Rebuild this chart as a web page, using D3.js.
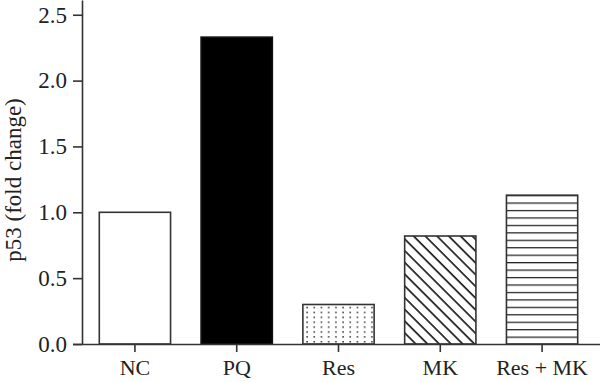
<!DOCTYPE html>
<html>
<head>
<meta charset="utf-8">
<script src="https://cdn.jsdelivr.net/npm/d3@7"></script>
<style>
  body { margin: 0; background: #fff; }
  svg { display: block; }
  text { font-family: "Liberation Serif", "Times New Roman", serif; }
</style>
</head>
<body>
<svg id="chart"></svg>
<script>
const groups = ["NC", "PQ", "Res", "MK", "Res + MK"];
const foldChange = [1.0, 2.33, 0.30, 0.82, 1.13];
const fills = ["white", "black", "url(#dots)", "url(#diag)", "url(#horiz)"];
const yTicks = [0, 0.5, 1.0, 1.5, 2.0, 2.5];

const w = 600;
const h = 382;
const axisColor = "#333";
const serif = '"Liberation Serif", "Times New Roman", serif';

const svg = d3.select("#chart").attr("width", w).attr("height", h);

const x = d3.scaleBand()
  .domain(groups)
  .range([82, 595])
  .paddingInner(0.3)
  .paddingOuter(0.17);

const y = d3.scaleLinear().domain([0, 2.612]).range([344, 0]);

// patterns
const defs = svg.append("defs");

const dots = defs.append("pattern")
  .attr("id", "dots")
  .attr("patternUnits", "userSpaceOnUse")
  .attr("width", 7.2)
  .attr("height", 4.9)
  .attr("x", 1)
  .attr("y", 344);
dots.append("rect").attr("width", 7.2).attr("height", 4.9).attr("fill", "white");
dots.append("rect").attr("x", 3).attr("y", 2).attr("width", 1.4).attr("height", 1.4).attr("fill", "#111");

const diag = defs.append("pattern")
  .attr("id", "diag")
  .attr("patternUnits", "userSpaceOnUse")
  .attr("width", 8.3)
  .attr("height", 8.3)
  .attr("patternTransform", "rotate(-45)");
diag.append("rect").attr("width", 8.3).attr("height", 8.3).attr("fill", "white");
diag.append("line")
  .attr("x1", 1).attr("y1", 0).attr("x2", 1).attr("y2", 8.3)
  .attr("stroke", "#111").attr("stroke-width", 1.6);

const horiz = defs.append("pattern")
  .attr("id", "horiz")
  .attr("patternUnits", "userSpaceOnUse")
  .attr("width", 10)
  .attr("height", 7.45)
  .attr("y", 344);
horiz.append("rect").attr("width", 10).attr("height", 7.45).attr("fill", "white");
horiz.append("line")
  .attr("x1", 0).attr("y1", 0.6).attr("x2", 10).attr("y2", 0.6)
  .attr("stroke", "#222").attr("stroke-width", 1.3);

// bars
svg.selectAll(".bar")
  .data(groups)
  .enter()
  .append("rect")
  .attr("class", "bar")
  .attr("x", (d) => x(d))
  .attr("y", (d, i) => y(foldChange[i]))
  .attr("width", x.bandwidth())
  .attr("height", (d, i) => y(0) - y(foldChange[i]))
  .attr("fill", (d, i) => fills[i])
  .attr("stroke", (d, i) => (i === 1 ? "#111" : "#333"))
  .attr("stroke-width", 1.6);

// y axis
const yAxis = svg.append("g")
  .attr("transform", "translate(82,0)")
  .call(d3.axisLeft(y).tickValues(yTicks).tickFormat(d3.format(".1f")).tickSize(9).tickSizeOuter(0));
yAxis.attr("font-family", null);
yAxis.selectAll("path, line").attr("stroke", axisColor).attr("stroke-width", 1.6);
yAxis.selectAll("text")
  .attr("fill", "#222")
  .attr("x", -15)
  .style("font-family", serif)
  .style("font-size", "23px");

// x axis
const xAxis = svg.append("g")
  .attr("transform", "translate(0,344)")
  .call(d3.axisBottom(x).tickSize(8).tickSizeOuter(0));
xAxis.attr("font-family", null);
xAxis.select(".domain").attr("d", "M73,0.5H600");
xAxis.selectAll("path, line").attr("stroke", axisColor).attr("stroke-width", 1.6);
xAxis.selectAll("text")
  .attr("fill", "#222")
  .attr("y", 15)
  .style("font-family", serif)
  .style("font-size", "22px");

// y label
svg.append("text")
  .attr("transform", "translate(21,180) rotate(-90)")
  .attr("text-anchor", "middle")
  .attr("fill", "#222")
  .style("font-family", serif)
  .style("font-size", "23px")
  .text("p53 (fold change)");
</script>
</body>
</html>
